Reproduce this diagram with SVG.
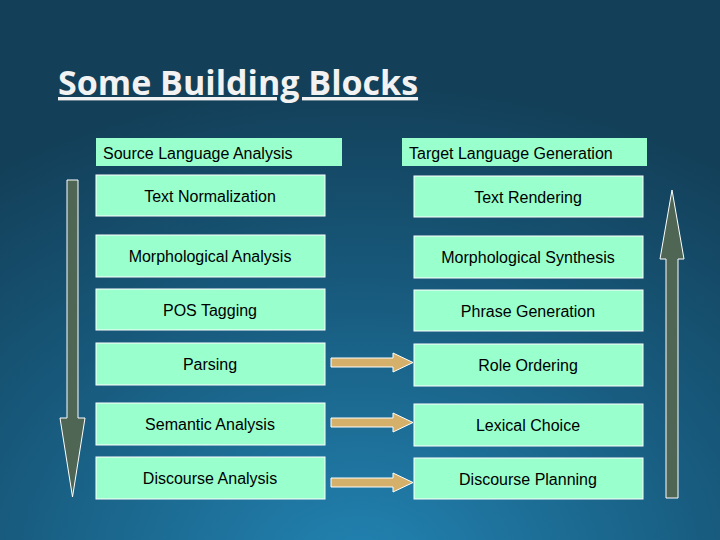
<svg xmlns="http://www.w3.org/2000/svg" width="720" height="540" viewBox="0 0 720 540">
<defs>
<radialGradient id="bg" cx="0.5" cy="1.05" r="0.9">
<stop offset="0" stop-color="#2283b2"/>
<stop offset="0.6" stop-color="#17587a"/>
<stop offset="1" stop-color="#133f58"/>
</radialGradient>
<style>
.box{fill:#99ffcc;stroke:#ffffff;stroke-width:1}
.hdr{fill:#99ffcc}
.t{font-family:"Liberation Sans",Arial,sans-serif;font-size:16px;fill:#000;text-anchor:middle}
.h{font-family:"Liberation Sans",Arial,sans-serif;font-size:16px;fill:#000}
.big{fill:#4f6655;stroke:#ffffff;stroke-width:1}
.mid{fill:#d4b06a;stroke:#ffffff;stroke-width:1}
</style>
</defs>
<rect width="720" height="540" fill="url(#bg)"/>
<text x="58" y="95" font-family="Open Sans,'Noto Sans',sans-serif" font-weight="bold" font-size="34" fill="#f2f2f2" text-decoration="underline">Some Building Blocks</text>
<g id="hdr-left"><rect class="hdr" x="96" y="138" width="246" height="28"/><text class="h" x="103" y="159">Source Language Analysis</text></g>
<g id="hdr-right"><rect class="hdr" x="402" y="138" width="245" height="28"/><text class="h" x="409" y="159">Target Language Generation</text></g>
<g id="l1"><rect class="box" x="96" y="175" width="229" height="41"/><text class="t" x="210" y="202">Text Normalization</text></g>
<g id="l2"><rect class="box" x="96" y="235" width="229" height="42"/><text class="t" x="210" y="262">Morphological Analysis</text></g>
<g id="l3"><rect class="box" x="96" y="289" width="229" height="41"/><text class="t" x="210" y="316">POS Tagging</text></g>
<g id="l4"><rect class="box" x="96" y="343" width="229" height="42"/><text class="t" x="210" y="370">Parsing</text></g>
<g id="l5"><rect class="box" x="96" y="403" width="229" height="42"/><text class="t" x="210" y="430">Semantic Analysis</text></g>
<g id="l6"><rect class="box" x="96" y="457" width="229" height="42"/><text class="t" x="210" y="484">Discourse Analysis</text></g>
<g id="r1"><rect class="box" x="414" y="176" width="229" height="41"/><text class="t" x="528" y="203">Text Rendering</text></g>
<g id="r2"><rect class="box" x="414" y="236" width="229" height="42"/><text class="t" x="528" y="263">Morphological Synthesis</text></g>
<g id="r3"><rect class="box" x="414" y="290" width="229" height="41"/><text class="t" x="528" y="317">Phrase Generation</text></g>
<g id="r4"><rect class="box" x="414" y="344" width="229" height="42"/><text class="t" x="528" y="371">Role Ordering</text></g>
<g id="r5"><rect class="box" x="414" y="404" width="229" height="42"/><text class="t" x="528" y="431">Lexical Choice</text></g>
<g id="r6"><rect class="box" x="414" y="458" width="229" height="41"/><text class="t" x="528" y="485">Discourse Planning</text></g>
<g id="connectors">
<polygon class="big" points="67,180 78,180 78,418 85,418 72.5,497 60,418 67,418"/>
<polygon class="big" points="666,498 678,498 678,259 684,259 672,190 660,259 666,259"/>
<polygon class="mid" points="331,358 393,358 393,353 413,362.5 393,372 393,367 331,367"/>
<polygon class="mid" points="331,418 393,418 393,413 413,422.5 393,432 393,427 331,427"/>
<polygon class="mid" points="331,478 393,478 393,473 413,482.5 393,492 393,487 331,487"/>
</g>
</svg>
